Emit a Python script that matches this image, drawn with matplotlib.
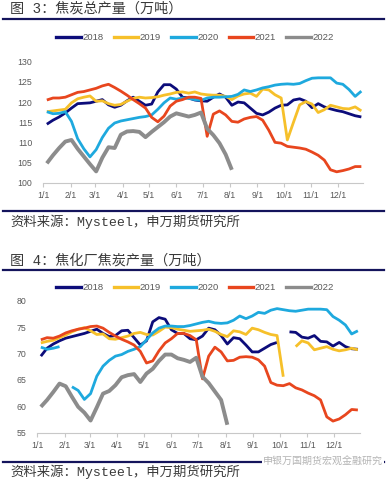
import numpy as np
import matplotlib.pyplot as plt
from matplotlib.lines import Line2D

plt.rcParams['font.family'] = ['Noto Sans CJK SC', 'DejaVu Sans']

nan = np.nan

years = ['2018', '2019', '2020', '2021', '2022']
colors = ['#0c0c7a', '#f6c02a', '#1ea9de', '#e8461e', '#8c8c8c']
widths = [2.0, 2.0, 2.0, 2.0, 2.8]

month_labels = ['1/1', '2/1', '3/1', '4/1', '5/1', '6/1',
                '7/1', '8/1', '9/1', '10/1', '11/1', '12/1']
month_days = [0, 31, 59, 90, 120, 151, 181, 212, 243, 273, 304, 334]

# 图3 焦炭总产量, weekly
total_2018 = [114.5, 115.5, 116.3, 117.3, 118.5, 119.6, 119.7, 119.8, 120.2, 120.6,
              119.3, 118.7, 119.2, 120.3, 121.2, 120.2, 119.2, 119.5, 122.5, 124.3,
              124.3, 123.2, 121.2, 121.0, 120.5, 120.3, 120.2, 121.2, 122.0, 121.2,
              119.2, 120.0, 119.8, 118.5, 117.2, 116.8, 117.5, 118.5, 119.2, 119.3,
              120.5, 120.8, 120.2, 118.6, 119.6, 118.8, 118.3, 117.9, 117.6, 117.1,
              116.6, 116.3]
total_2019 = [117.6, 117.8, 118.0, 118.2, 119.8, 120.8, 121.2, 121.5, 120.2, 120.3,
              119.6, 119.2, 119.4, 120.2, 120.9, 121.2, 121.0, 121.1, 121.3, 121.7,
              122.0, 122.4, 122.5, 122.2, 122.5, 122.0, 121.8, 121.7, 121.7, 121.4,
              120.6, 121.5, 122.0, 122.2, 121.4, 123.2, 123.0, 121.8, 121.0, 110.6,
              115.0, 119.3, 120.1, 119.5, 117.4, 118.1, 119.2, 118.8, 118.4, 118.3,
              118.8, 117.8]
total_2020 = [117.6, 117.1, 117.2, 117.6, 115.2, 110.9, 108.4, 106.4, 108.2, 111.2,
              113.5, 114.8, 115.3, 115.6, 115.9, 116.2, 116.4, 116.8, 118.2, 119.8,
              121.0, 120.7, 121.0, 120.9, 120.6, 120.4, 121.0, 121.2, 121.2, 121.3,
              121.4, 121.9, 123.0, 122.6, 123.0, 123.5, 123.8, 124.2, 124.4, 124.5,
              124.4, 124.6, 125.3, 125.9, 126.0, 126.0, 126.0, 124.7, 124.4, 123.1,
              121.4, 122.7]
total_2021 = [120.5, 121.0, 121.0, 121.2, 121.8, 122.4, 122.6, 123.0, 123.4, 124.0,
              124.4, 123.6, 122.7, 121.7, 120.6, 119.6, 118.5, 116.2, 115.1, 116.5,
              119.0, 120.2, 120.6, 121.2, 121.2, 120.9, 111.5, 117.0, 117.8, 116.8,
              115.2, 115.0, 115.8, 116.2, 116.4, 115.5, 113.0, 110.0, 109.8, 109.0,
              108.8, 108.6, 108.3, 107.6, 106.8, 105.6, 103.2, 102.7, 103.0, 103.4,
              104.0, 104.0]
total_2022 = [104.8, 106.8, 108.6, 110.2, 110.6, 108.4, 106.5, 104.6, 102.8, 106.2,
              108.8, 108.6, 111.9, 112.7, 112.8, 112.6, 111.3, 112.6, 113.8, 115.0,
              116.4, 117.2, 116.8, 116.4, 116.8, 117.4, 113.4, 111.8, 109.8, 107.0,
              103.2]

# 图4 焦化厂焦炭产量, weekly
plant_2018 = [69.5, 71.0, 71.8, 72.4, 72.9, 73.2, 73.5, 73.8, 74.2, 74.6,
              73.8, 73.2, 73.4, 74.3, 74.4, 73.0, 71.6, 72.4, 76.0, 76.8,
              76.5, 74.5, 73.8, 73.8, 72.8, 72.6, 73.3, 74.8, 74.5, 73.4,
              71.8, 73.0, 72.8, 71.6, 70.3, 70.3, 71.0, 71.7, 72.1, nan,
              74.1, 74.0, 73.1, 72.9, 73.4, 72.3, 72.2, 71.4, 72.1, 71.3,
              70.9, 70.8]
plant_2019 = [72.0, 72.3, 72.5, 73.0, 73.5, 74.1, 74.6, 74.9, 74.3, 73.6,
              73.7, 72.8, 72.7, 73.0, 73.3, 73.8, 74.0, 73.6, 73.5, 74.2,
              75.0, 74.9, 74.6, 74.4, 74.2, 74.3, 74.4, 74.6, 74.2, 73.6,
              73.2, 74.3, 74.1, 73.6, 74.8, 74.5, 74.0, 73.6, 73.4, 65.6,
              nan, 71.3, 72.4, 72.0, 70.7, 71.0, 71.3, 70.8, 70.5, 70.7,
              71.0, 70.7]
plant_2020 = [71.2, 70.8, 71.0, 71.3, nan, 63.7, 63.0, 61.3, 62.4, 65.7,
              67.6, 68.7, 69.5, 69.8, 70.4, 70.8, 71.3, 72.6, 73.9, 74.8,
              75.2, 75.2, 75.1, 75.1, 75.3, 75.6, 75.9, 76.1, 75.8, 75.7,
              75.8, 76.3, 77.1, 76.6, 77.1, 77.8, 77.6, 78.2, 78.5, 78.3,
              78.1, 78.0, 78.2, 78.4, 78.4, 78.4, 78.3, 77.0, 76.3, 75.4,
              73.7, 74.3]
plant_2021 = [72.6, 73.0, 72.9, 73.3, 73.9, 74.3, 74.6, 74.8, 75.1, 75.2,
              74.8, 74.0, 73.3, 72.7, 72.2, 71.6, 70.4, 68.2, 68.6, 70.5,
              72.0, 72.8, 73.8, 73.8, 73.4, 72.6, 65.2, 69.5, 71.2, 70.3,
              68.6, 68.7, 69.3, 69.4, 69.3, 68.8, 67.6, 64.5, 64.0, 63.9,
              64.3, 63.5, 63.1, 62.5, 62.0, 61.2, 58.0, 57.2, 57.6, 58.4,
              59.4, 59.3]
plant_2022 = [59.9, 61.2, 62.7, 64.3, 63.8, 61.8, 59.9, 58.8, 57.3, 59.8,
              62.4, 62.9, 64.0, 65.5, 65.9, 66.1, 64.6, 66.2, 67.1, 68.6,
              69.8, 69.8, 69.1, 68.8, 68.4, 69.2, 65.6, 64.4, 62.8, 61.2,
              56.5]

W, H = 388, 482
NAVY = '#14145c'
TXT = '#3a3a3a'
TICK = '#595959'
# latin parts in a fixed-width face, CJK falls back to Noto
CAPTION_FONT = ['Liberation Mono', 'Noto Sans CJK SC', 'DejaVu Sans']


def fx(px):
    return px / W


def fy(py):
    return 1 - py / H


def week_days(series):
    # first report a few days into January, then one point a week
    return 4 + 7 * np.arange(len(series))


def draw_panel(ax, series, ylim, yticks):
    for s, c, lw in zip(series, colors, widths):
        ax.plot(week_days(s), s, color=c, lw=lw, solid_capstyle='butt')
    ax.set_xlim(0, 363)
    ax.set_ylim(*ylim)
    ax.set_yticks(yticks)
    ax.set_xticks(month_days)
    ax.set_xticklabels(month_labels)
    for sp in ['top', 'right', 'left']:
        ax.spines[sp].set_visible(False)
    ax.spines['bottom'].set_color('#c8c8c8')
    ax.spines['bottom'].set_linewidth(0.8)
    ax.tick_params(axis='x', direction='out', length=3, color='#c8c8c8',
                   labelsize=6.3, labelcolor=TICK, pad=3)
    ax.tick_params(axis='y', length=0, labelsize=6.3, labelcolor=TICK, pad=8)
    for lab in ax.get_xticklabels() + ax.get_yticklabels():
        lab.set_family('Liberation Sans')


def header(title, py_title, py_rule, py_legend):
    fig.text(fx(10), fy(py_title), title, fontsize=10.2, color=TXT, va='center',
             family=CAPTION_FONT)
    fig.add_artist(Line2D([fx(3), fx(384)], [fy(py_rule)] * 2, color=NAVY, lw=1.6))
    handles = [Line2D([], [], color=c, lw=2.4) for c in colors]
    leg = fig.legend(handles, years, loc='center', ncol=5,
                     bbox_to_anchor=(fx(195), fy(py_legend)), frameon=False,
                     handlelength=2.6, handletextpad=0.15, columnspacing=1.1,
                     prop={'family': 'Liberation Sans', 'size': 6.8})
    for t in leg.get_texts():
        t.set_color(TICK)


def footer(py_rule, py_text):
    fig.add_artist(Line2D([fx(3), fx(384)], [fy(py_rule)] * 2, color=NAVY, lw=1.6))
    fig.text(fx(10), fy(py_text), '资料来源：Mysteel，申万期货研究所',
             fontsize=9.6, color=TXT, va='center', family=CAPTION_FONT)


fig = plt.figure(figsize=(W / 100, H / 100), dpi=100)

ax1 = fig.add_axes([fx(43.3), fy(182.7), fx(363 * 0.881), (182.7 - 61.7) / H])
draw_panel(ax1, [total_2018, total_2019, total_2020, total_2021, total_2022],
           (100, 130), [100, 105, 110, 115, 120, 125, 130])
header('图 3：焦炭总产量（万吨）', 9, 19, 38)
footer(211, 222)

ax2 = fig.add_axes([fx(37.3), fy(432.7), fx(363 * 0.888), (432.7 - 300.7) / H])
draw_panel(ax2, [plant_2018, plant_2019, plant_2020, plant_2021, plant_2022],
           (55, 80), [55, 60, 65, 70, 75, 80])
header('图 4：焦化厂焦炭产量（万吨）', 261, 270, 288)
footer(462, 472)

fig.text(fx(383), fy(462), '申银万国期货宏观金融研究', fontsize=7.2, color='#b4b4b4',
         ha='right', va='center',
         bbox=dict(facecolor='white', edgecolor='none', pad=0.5))

fig.savefig('out.png', dpi=100)
